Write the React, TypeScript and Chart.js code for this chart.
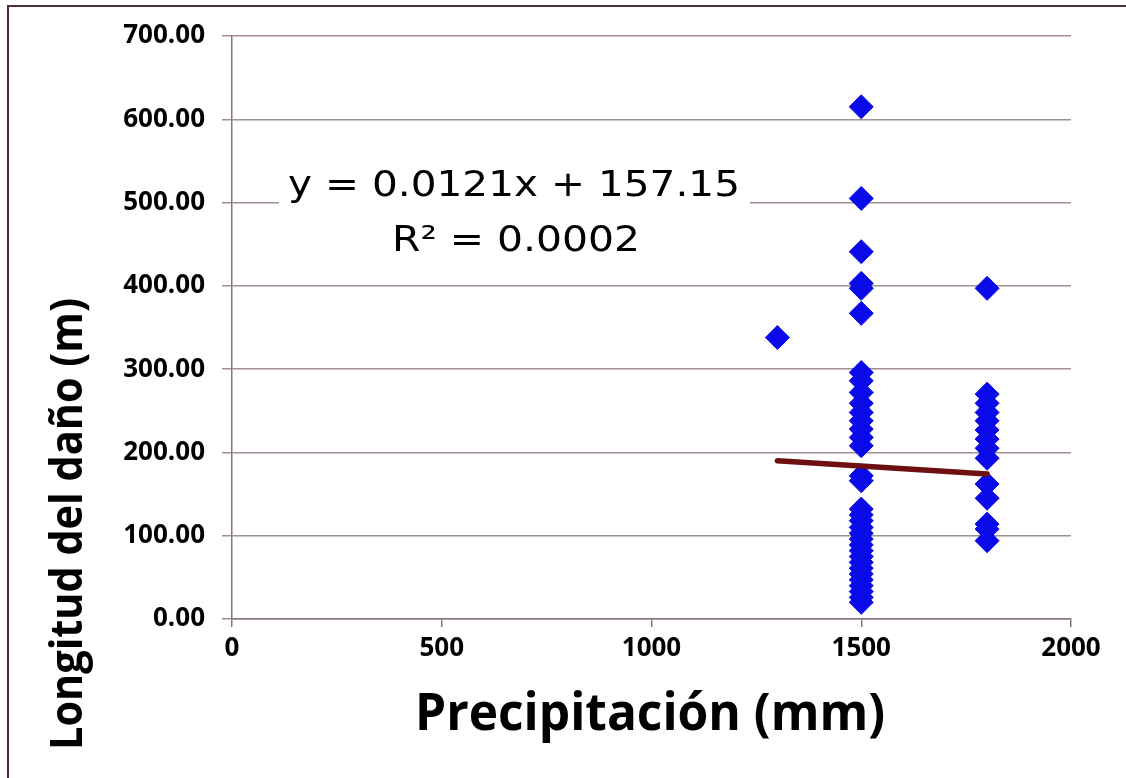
import React, { useEffect, useRef } from "react";
import { Chart, registerables } from "chart.js";

Chart.register(...registerables);

// ---- data ----
const precipitacionGrupos = [1300, 1500, 1800];
const longitud1300 = [338];
const longitud1500 = [
  615, 505, 441, 403, 397, 367,
  296, 286, 272, 259, 248, 238, 228, 218, 208,
  172, 166,
  132, 125, 118, 110, 103, 96, 89, 82, 75, 68, 61, 54, 47, 40, 33, 26, 20,
];
const longitud1800 = [397, 270, 259, 248, 238, 227, 216, 205, 193, 162, 145, 114, 108, 94];
const tendenciaX = [1300, 1800];
const tendenciaY = [190, 174];
const ecuacionTexto = "y = 0.0121x + 157.15";
const r2Texto = "R² = 0.0002";
const tituloX = "Precipitación (mm)";
const tituloY = "Longitud del daño (m)";

const gridColor = "#a08e98";
const axisColor = "#8a7480";

function fitText(
  ctx: CanvasRenderingContext2D,
  text: string,
  cx: number,
  cy: number,
  width: number,
  font: string,
  rotation = 0
) {
  ctx.save();
  ctx.font = font;
  const w = ctx.measureText(text).width || 1;
  ctx.translate(cx, cy);
  if (rotation) ctx.rotate(rotation);
  ctx.scale(width / w, 1);
  ctx.textAlign = "center";
  ctx.textBaseline = "alphabetic";
  ctx.fillStyle = "#000";
  ctx.fillText(text, 0, 0);
  ctx.restore();
}

const textPlugin = {
  id: "textPlugin",
  afterDraw(chart: any) {
    const ctx = chart.ctx as CanvasRenderingContext2D;
    // equation label box
    ctx.save();
    ctx.fillStyle = "#ffffff";
    ctx.fillRect(279, 162, 471, 100);
    ctx.restore();
    fitText(ctx, ecuacionTexto, 514, 196, 452, "35px 'DejaVu Sans'");
    fitText(ctx, r2Texto, 516, 251, 248, "35px 'DejaVu Sans'");
    // axis titles
    fitText(ctx, tituloX, 650, 730, 470, "bold 52px 'Open Sans'");
    fitText(ctx, tituloY, 82, 524, 452, "bold 45px 'Open Sans'", -Math.PI / 2);
  },
};

export default function App() {
  const ref = useRef<HTMLCanvasElement | null>(null);

  useEffect(() => {
    if (!ref.current) return;
    const puntos = [
      ...longitud1300.map((y) => ({ x: precipitacionGrupos[0], y })),
      ...longitud1500.map((y) => ({ x: precipitacionGrupos[1], y })),
      ...longitud1800.map((y) => ({ x: precipitacionGrupos[2], y })),
    ];
    const tendencia = tendenciaX.map((x, i) => ({ x, y: tendenciaY[i] }));

    const chart = new Chart(ref.current, {
      type: "scatter",
      data: {
        datasets: [
          {
            label: "Tendencia",
            data: tendencia,
            showLine: true,
            borderColor: "#6e1010",
            borderWidth: 5.5,
            borderCapStyle: "round",
            pointRadius: 0,
            order: 0,
          },
          {
            label: "Longitud",
            data: puntos,
            pointStyle: "rectRot",
            pointRadius: 12,
            backgroundColor: "#0a0ae8",
            borderColor: "#0a0ae8",
            borderWidth: 1,
            order: 1,
          },
        ],
      },
      options: {
        responsive: false,
        animation: false,
        devicePixelRatio: 1,
        layout: { padding: { top: 36, right: 55, left: 0, bottom: 0 } },
        plugins: { legend: { display: false }, tooltip: { enabled: false } },
        scales: {
          x: {
            type: "linear",
            min: 0,
            max: 2000,
            afterFit: (s: any) => {
              s.height = 159;
            },
            ticks: {
              stepSize: 500,
              color: "#000",
              padding: 6,
              font: { family: "'Open Sans'", weight: "bold", size: 26 },
              callback: (v: any) => String(v),
            },
            grid: { drawOnChartArea: false, drawTicks: true, tickLength: 8, color: axisColor, lineWidth: 1.5 },
            border: { color: axisColor, width: 1.5 },
          },
          y: {
            min: 0,
            max: 700,
            afterFit: (s: any) => {
              s.width = 232;
            },
            ticks: {
              stepSize: 100,
              color: "#000",
              padding: 17,
              font: { family: "'Open Sans'", weight: "bold", size: 26 },
              callback: (v: any) => Number(v).toFixed(2),
            },
            grid: { color: gridColor, lineWidth: 1.5, tickLength: 10 },
            border: { color: axisColor, width: 1.5 },
          },
        },
      },
      plugins: [textPlugin],
    });
    return () => chart.destroy();
  }, []);

  return (
    <div style={{ position: "absolute", left: 0, top: 0, width: 1126, height: 778, background: "#fff" }}>
      <canvas ref={ref} width={1126} height={778} style={{ display: "block" }} />
      <div
        style={{
          position: "absolute",
          left: 7,
          top: 5,
          width: 1119,
          height: 773,
          borderLeft: "2px solid #4b2d3d",
          borderTop: "2px solid #4b2d3d",
          boxSizing: "border-box",
          pointerEvents: "none",
        }}
      />
    </div>
  );
}
